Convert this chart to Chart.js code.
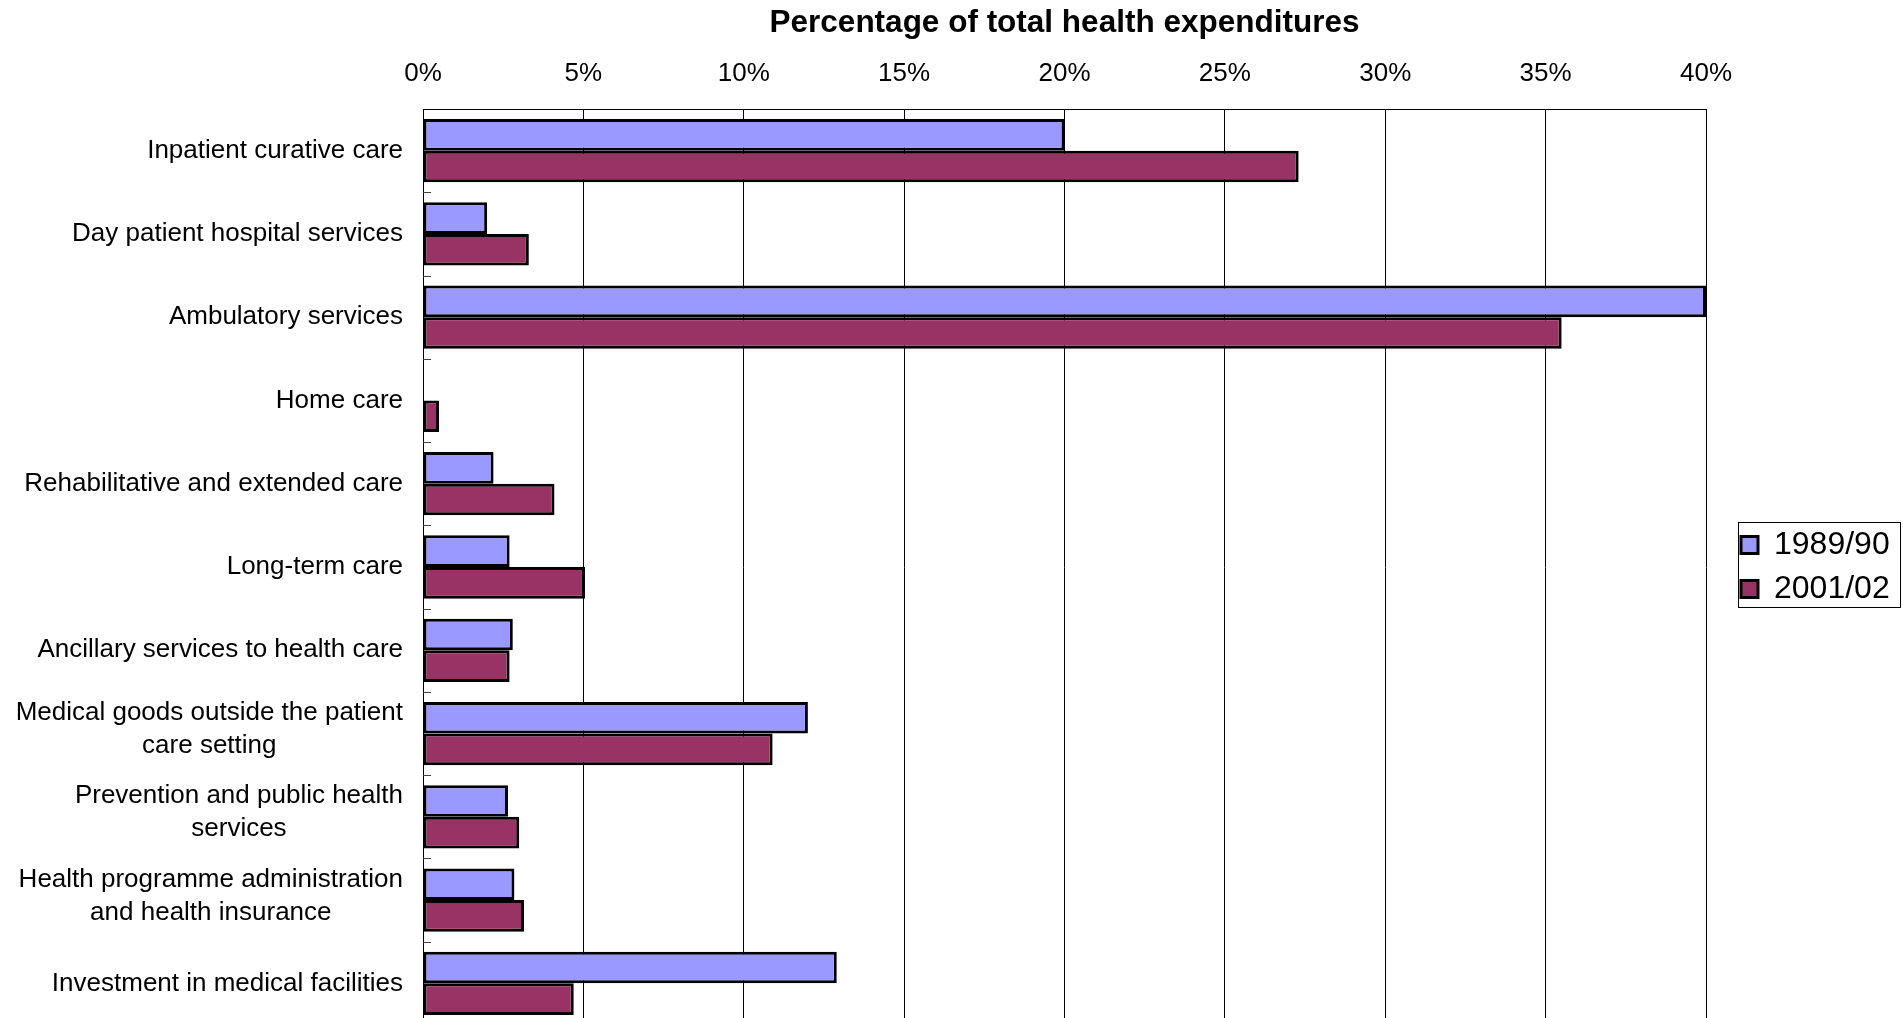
<!DOCTYPE html>
<html>
<head>
<meta charset="utf-8">
<script src="https://cdn.jsdelivr.net/npm/chart.js@4/dist/chart.umd.min.js"></script>
<style>
  html, body { margin: 0; padding: 0; background: #fff; overflow: hidden; }
  #wrap { position: relative; width: 1903px; height: 1025px; }
</style>
</head>
<body>
<div id="wrap"><canvas id="chartGasto"></canvas></div>
<script>
const categorias = [
  'Inpatient curative care',
  'Day patient hospital services',
  'Ambulatory services',
  'Home care',
  'Rehabilitative and extended care',
  'Long-term care',
  'Ancillary services to health care',
  ['Medical goods outside the patient', 'care setting'],
  ['Prevention and public health', 'services'],
  ['Health programme administration', 'and health insurance'],
  'Investment in medical facilities'
];
const serie1989 = [20.0, 2.0, 40.0, null, 2.2, 2.7, 2.8, 12.0, 2.65, 2.85, 12.9];
const serie2001 = [27.3, 3.3, 35.5, 0.5, 4.1, 5.05, 2.7, 10.9, 3.0, 3.15, 4.7];
const etiquetasSeries = ['1989/90', '2001/02'];
const ticksPct = [0, 5, 10, 15, 20, 25, 30, 35, 40];

const FONT = '"Liberation Sans", Arial, Helvetica, sans-serif';
const ANCHO_EJE_Y = 423;   // ancho reservado a las etiquetas de categoría
const MARGEN_DER = 197;    // espacio a la derecha del área de trazado
const LEYENDA_X = 1729;    // borde izquierdo de la leyenda

// etiquetas del eje Y: bloque alineado a la derecha, líneas centradas entre sí
const yLabelsPlugin = {
  id: 'yLabels',
  afterDraw(chart) {
    const sc = chart.scales.y;
    const ctx = chart.ctx;
    ctx.save();
    ctx.font = '26px ' + FONT;
    ctx.fillStyle = '#000';
    ctx.textBaseline = 'middle';
    ctx.textAlign = 'center';
    const right = chart.chartArea.left - 20;
    const lh = 33;
    categorias.forEach((c, i) => {
      const lines = Array.isArray(c) ? c : [c];
      const w = Math.max(...lines.map(l => ctx.measureText(l).width));
      const cx = right - w / 2;
      const cy = sc.getPixelForValue(i) - (lines.length > 1 ? 4 : 0);
      lines.forEach((l, k) => {
        ctx.fillText(l, cx, cy + (k - (lines.length - 1) / 2) * lh);
      });
    });
    // marcas interiores entre categorías
    ctx.strokeStyle = '#444';
    ctx.lineWidth = 1;
    const x0 = chart.chartArea.left;
    for (let i = 0; i < categorias.length - 1; i++) {
      const y = Math.round((sc.getPixelForValue(i) + sc.getPixelForValue(i + 1)) / 2) + 0.5;
      ctx.beginPath();
      ctx.moveTo(x0, y);
      ctx.lineTo(x0 + 8, y);
      ctx.stroke();
    }
    ctx.restore();
  }
};

// leyenda desplazada a la derecha y con recuadro
const legendBoxPlugin = {
  id: 'legendBox',
  afterLayout(chart) {
    const lg = chart.legend;
    if (!lg) return;
    const w = lg.width;
    lg.left = LEYENDA_X;
    lg.right = LEYENDA_X + w;
  },
  afterDraw(chart) {
    const hb = chart.legend && chart.legend.legendHitBoxes;
    if (!hb || !hb.length) return;
    const l = Math.min(...hb.map(h => h.left)) - 3;
    const t = Math.min(...hb.map(h => h.top)) - 7;
    const r = Math.max(...hb.map(h => h.left + h.width)) + 10;
    const b = Math.max(...hb.map(h => h.top + h.height)) + 2;
    const ctx = chart.ctx;
    ctx.save();
    ctx.strokeStyle = '#000';
    ctx.lineWidth = 1;
    ctx.strokeRect(Math.round(l) + 0.5, Math.round(t) + 0.5, Math.round(r - l), Math.round(b - t));
    ctx.restore();
  }
};

let _chart = null;

function init() {
  const ctx = document.getElementById('chartGasto');
  if (_chart) _chart.destroy();
  _chart = new Chart(ctx.getContext('2d'), {
    type: 'bar',
    data: {
      labels: categorias,
      datasets: [
        { label: etiquetasSeries[0], data: serie1989, backgroundColor: '#9999ff', borderColor: '#000', borderWidth: 3, borderSkipped: false },
        { label: etiquetasSeries[1], data: serie2001, backgroundColor: '#993366', borderColor: '#000', borderWidth: 3, borderSkipped: false }
      ]
    },
    options: {
      indexAxis: 'y',
      responsive: true,
      maintainAspectRatio: false,
      animation: false,
      datasets: { bar: { barPercentage: 1, categoryPercentage: 0.76 } },
      layout: { padding: { left: 0, right: 0, top: 0, bottom: 0 } },
      scales: {
        x: {
          type: 'linear',
          position: 'top',
          min: 0,
          max: 40,
          afterBuildTicks: (s) => { s.ticks = ticksPct.map(v => ({ value: v })); },
          afterFit: (s) => { s.paddingRight = MARGEN_DER; },
          ticks: { callback: v => v + '%', font: { size: 26, family: FONT }, color: '#000', padding: 20, maxRotation: 0 },
          grid: { color: '#000', lineWidth: 1, drawTicks: false },
          border: { display: true, color: '#000', width: 1 },
          title: {
            display: true,
            text: 'Percentage of total health expenditures',
            font: { size: 31.5, weight: 'bold', family: FONT },
            color: '#000',
            padding: { top: 4, bottom: -4 }
          }
        },
        y: {
          type: 'category',
          offset: true,
          grid: { display: false, drawTicks: false },
          border: { display: true, color: '#000', width: 1 },
          ticks: { display: false },
          afterFit: (s) => { s.width = ANCHO_EJE_Y; }
        }
      },
      plugins: {
        legend: {
          position: 'right',
          fullSize: false,
          labels: { font: { size: 32, family: FONT }, color: '#000', boxWidth: 17, boxHeight: 17, padding: 12 }
        },
        tooltip: { enabled: false }
      }
    },
    plugins: [yLabelsPlugin, legendBoxPlugin]
  });
}

init();
</script>
</body>
</html>
